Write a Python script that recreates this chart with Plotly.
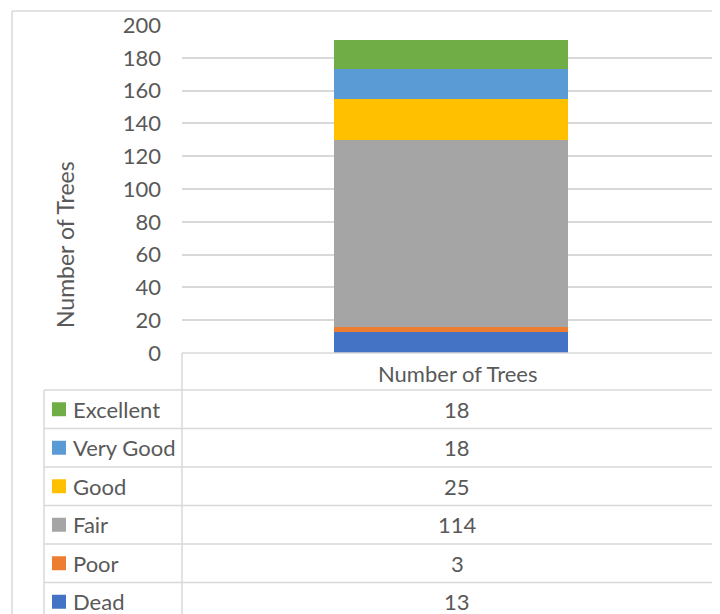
import plotly.graph_objects as go

# ---- data ----
categories = ["Dead", "Poor", "Fair", "Good", "Very Good", "Excellent"]
values = [13, 3, 114, 25, 18, 18]
colors = ["#4472C4", "#ED7D31", "#A5A5A5", "#FFC000", "#5B9BD5", "#70AD47"]
x_label = "Number of Trees"
y_title = "Number of Trees"
y_range = [0, 200]
y_step = 20

# page body margin is 8px; figure sized to fill the rest of the 720x614 window
OFF = 8
W, H = 720 - OFF, 614 - OFF
FONT = "Lato"
TXT = "#595959"
GRID = "#d9d9d9"


def px(x):
    return (x - OFF) / W


def py(y):
    return 1 - (y - OFF) / H


fig = go.Figure()
for cat, val, col in zip(categories, values, colors):
    fig.add_trace(go.Bar(x=[x_label], y=[val], name=cat, marker_color=col,
                         marker_line_width=0, showlegend=False))

shapes = []
annotations = []

# outer chart border
shapes.append(dict(type="line", xref="paper", yref="paper", x0=px(12), x1=px(12),
                   y0=py(11), y1=py(640), line=dict(color=GRID, width=1.5)))
shapes.append(dict(type="line", xref="paper", yref="paper", x0=px(12), x1=px(740),
                   y0=py(11), y1=py(11), line=dict(color=GRID, width=1.5)))

# data table geometry
plot_left = 182
table_left = 44
header_top = 353
row_tops = [390, 428.5, 467, 505.5, 544, 582.5, 621]
text_cx = 457

# header top line (axis baseline) and vertical separators
shapes.append(dict(type="line", xref="paper", yref="paper", x0=px(plot_left), x1=px(740),
                   y0=py(header_top), y1=py(header_top), line=dict(color=GRID, width=1.5)))
shapes.append(dict(type="line", xref="paper", yref="paper", x0=px(plot_left), x1=px(plot_left),
                   y0=py(header_top), y1=py(640), line=dict(color=GRID, width=1.5)))
shapes.append(dict(type="line", xref="paper", yref="paper", x0=px(table_left), x1=px(table_left),
                   y0=py(row_tops[0]), y1=py(640), line=dict(color=GRID, width=1.5)))
for yt in row_tops:
    shapes.append(dict(type="line", xref="paper", yref="paper", x0=px(table_left), x1=px(740),
                       y0=py(yt), y1=py(yt), line=dict(color=GRID, width=1.5)))

# header text
annotations.append(dict(text=x_label, xref="paper", yref="paper", x=px(text_cx), y=py(373),
                        showarrow=False, xanchor="center", yanchor="middle",
                        font=dict(family=FONT, size=22, color=TXT)))

# table rows: top to bottom = reversed series order
rows = list(zip(categories, values, colors))[::-1]
for i, (cat, val, col) in enumerate(rows):
    cy = (row_tops[i] + row_tops[i + 1]) / 2
    shapes.append(dict(type="rect", xref="paper", yref="paper", x0=px(52), x1=px(66),
                       y0=py(cy - 7), y1=py(cy + 7), fillcolor=col, line=dict(width=0)))
    annotations.append(dict(text=cat, xref="paper", yref="paper", x=px(71), y=py(cy),
                            showarrow=False, xanchor="left", yanchor="middle",
                            font=dict(family=FONT, size=22, color=TXT)))
    annotations.append(dict(text=str(val), xref="paper", yref="paper", x=px(text_cx), y=py(cy),
                            showarrow=False, xanchor="center", yanchor="middle",
                            font=dict(family=FONT, size=22, color=TXT)))

# y axis title
annotations.append(dict(text=y_title, xref="paper", yref="paper", x=px(65), y=py(245),
                        showarrow=False, textangle=-90, xanchor="center", yanchor="middle",
                        font=dict(family=FONT, size=23, color=TXT)))

fig.update_layout(
    width=W, height=H,
    margin=dict(l=0, r=0, t=0, b=0, autoexpand=False),
    paper_bgcolor="white", plot_bgcolor="white",
    barmode="stack", bargap=0.565,
    shapes=shapes, annotations=annotations,
    xaxis=dict(domain=[px(plot_left), 1], showticklabels=False, showgrid=False,
               zeroline=False, showline=False, ticks="", automargin=False),
    yaxis=dict(domain=[py(353), py(25)], range=y_range, tick0=0, dtick=y_step,
               showgrid=True, gridcolor=GRID, gridwidth=1.5, zeroline=False,
               showline=False, ticks="", ticklabelstandoff=20, automargin=False,
               tickfont=dict(family=FONT, size=22, color=TXT)),
    font=dict(family=FONT, color=TXT),
)

fig.write_html("out.html")
